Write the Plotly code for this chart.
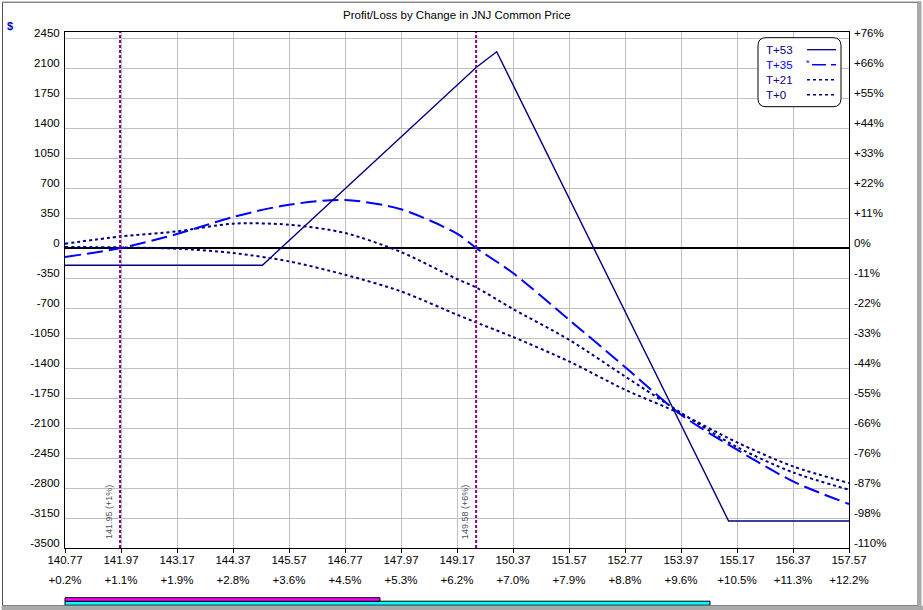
import plotly.graph_objects as go

# ---------------- data ----------------
SERIES = ["T+53", "T+35", "T+21", "T+0"]

PRICE_T53 = [140.77, 145.00, 149.58, 150.02, 154.99, 157.57]
PL_T53 = [-201, -201, 2105, 2290, -3185, -3185]

PRICE_CURVE = [140.77, 141.97, 143.17, 144.37, 145.57, 146.77, 147.97, 149.17,
               149.58, 150.37, 151.57, 152.77, 153.97, 155.17, 156.37, 157.57]
PL_T35 = [-105, 0, 163, 362, 505, 560, 452, 167,
          0, -292, -837, -1388, -1945, -2353, -2723, -2987]
PL_T21 = [50, 135, 194, 284, 272, 175, -47, -362,
          -460, -712, -1070, -1498, -1922, -2322, -2618, -2820]
PL_T0 = [12, 7, -8, -58, -156, -312, -506, -778,
         -868, -1038, -1323, -1653, -1935, -2268, -2548, -2742]

X_TICK_VALUES = [140.77, 141.97, 143.17, 144.37, 145.57, 146.77, 147.97, 149.17,
                 150.37, 151.57, 152.77, 153.97, 155.17, 156.37, 157.57]
X_TICK_TEXT = ["140.77", "141.97", "143.17", "144.37", "145.57", "146.77", "147.97",
               "149.17", "150.37", "151.57", "152.77", "153.97", "155.17", "156.37", "157.57"]
X_PCT_TEXT = ["+0.2%", "+1.1%", "+1.9%", "+2.8%", "+3.6%", "+4.5%", "+5.3%", "+6.2%",
              "+7.0%", "+7.9%", "+8.8%", "+9.6%", "+10.5%", "+11.3%", "+12.2%"]

Y_TICK_VALUES = [-3500, -3150, -2800, -2450, -2100, -1750, -1400, -1050, -700, -350,
                 0, 350, 700, 1050, 1400, 1750, 2100, 2450]
Y_TICK_TEXT = ["-3500", "-3150", "-2800", "-2450", "-2100", "-1750", "-1400", "-1050",
               "-700", "-350", "0", "350", "700", "1050", "1400", "1750", "2100", "2450"]
Y_PCT_TEXT = ["-110%", "-98%", "-87%", "-76%", "-66%", "-55%", "-44%", "-33%", "-22%",
              "-11%", "0%", "+11%", "+22%", "+33%", "+44%", "+55%", "+66%", "+76%"]

VLINE_PRICES = [141.95, 149.58]
VLINE_LABELS = ["141.95 (+1%)", "149.58 (+6%)"]

X_RANGE = [140.77, 157.57]
Y_RANGE = [-3500, 2520]

TITLE = "Profit/Loss by Change in JNJ Common Price"

# ---------------- styling ----------------
FONT = "Liberation Sans, Arial, sans-serif"
FS = 11.5
NAVY = "#000080"
BLUE = "#0000FF"
STYLES = {
    "T+53": dict(color=NAVY, dash="solid", width=1.4, text=NAVY),
    "T+35": dict(color=BLUE, dash="16px,6px", width=2, text=BLUE),
    "T+21": dict(color=NAVY, dash="3px,3px", width=2, text="#200080"),
    "T+0": dict(color=NAVY, dash="3px,3px", width=2, text=NAVY),
}

W, H = 923, 610
L, R, T, B = 65, 849, 32.3, 548.3


def px(x):
    return (x - L) / (R - L)


def py(y):
    return (B - y) / (B - T)


fig = go.Figure()

series_data = {
    "T+53": (PRICE_T53, PL_T53, "linear"),
    "T+35": (PRICE_CURVE, PL_T35, "spline"),
    "T+21": (PRICE_CURVE, PL_T21, "spline"),
    "T+0": (PRICE_CURVE, PL_T0, "spline"),
}
for name in ["T+0", "T+21", "T+35", "T+53"]:
    xs, ys, shape = series_data[name]
    st = STYLES[name]
    fig.add_trace(go.Scatter(
        x=xs, y=ys, name=name, mode="lines",
        line=dict(color=st["color"], dash=st["dash"], width=st["width"], shape=shape,
                  smoothing=0.8 if shape == "spline" else None),
        hoverinfo="x+y+name",
    ))

# carrier trace for the secondary (right / percent) axes
fig.add_trace(go.Scatter(
    x=[PRICE_T53[0]], y=[PL_T53[0]], xaxis="x2", yaxis="y2", mode="markers",
    marker=dict(opacity=0), hoverinfo="skip", showlegend=False,
))

shapes = []
annotations = []

# vertical marker lines
for v, lab in zip(VLINE_PRICES, VLINE_LABELS):
    shapes.append(dict(type="line", xref="x", yref="paper", x0=v, x1=v, y0=0, y1=1,
                       line=dict(color="#800080", width=2, dash="3px,2px"), layer="above"))
    annotations.append(dict(x=v, xref="x", y=0, yref="paper", text=lab, showarrow=False,
                            textangle=-90, xanchor="center", yanchor="bottom",
                            xshift=-11, yshift=7,
                            font=dict(family=FONT, size=9, color="#505060")))

# rounded legend box
x0, x1 = px(758), px(841)
y0, y1 = py(107), py(38)
rx, ry = 8 / (R - L), 8 / (B - T)
path = (f"M {x0 + rx},{y1} L {x1 - rx},{y1} Q {x1},{y1} {x1},{y1 - ry} "
        f"L {x1},{y0 + ry} Q {x1},{y0} {x1 - rx},{y0} L {x0 + rx},{y0} "
        f"Q {x0},{y0} {x0},{y0 + ry} L {x0},{y1 - ry} Q {x0},{y1} {x0 + rx},{y1} Z")
shapes.append(dict(type="path", xref="paper", yref="paper", path=path,
                   fillcolor="white", line=dict(color="black", width=1), layer="above"))

legend_rows = [50, 65, 80, 95]
for name, ry_px in zip(SERIES, legend_rows):
    st = STYLES[name]
    annotations.append(dict(x=px(764), y=py(ry_px), xref="paper", yref="paper", text=name,
                            showarrow=False, xanchor="left", yanchor="middle",
                            font=dict(family=FONT, size=FS, color=st["text"])))
    if name == "T+35":
        annotations.append(dict(x=px(808), y=py(ry_px - 2), xref="paper", yref="paper", text="*",
                                showarrow=False, xanchor="center", yanchor="middle",
                                font=dict(family=FONT, size=9, color=BLUE)))
        shapes.append(dict(type="line", xref="paper", yref="paper", x0=px(812), x1=px(836),
                           y0=py(ry_px), y1=py(ry_px), layer="above",
                           line=dict(color=BLUE, width=1.5, dash="14px,5px")))
    else:
        shapes.append(dict(type="line", xref="paper", yref="paper", x0=px(807), x1=px(836),
                           y0=py(ry_px), y1=py(ry_px), layer="above",
                           line=dict(color=NAVY, width=1.3 if name == "T+53" else 1.5,
                                     dash="solid" if name == "T+53" else "3px,3px")))

# title and $ label
annotations.append(dict(x=0.5, y=py(15), xref="paper", yref="paper", text=TITLE,
                        showarrow=False, xanchor="center", yanchor="middle",
                        font=dict(family=FONT, size=FS, color="black")))
annotations.append(dict(x=px(10), y=py(26), xref="paper", yref="paper", text="<b>$</b>",
                        showarrow=False, xanchor="center", yanchor="middle",
                        font=dict(family=FONT, size=11, color="#0000C0")))


# bottom bars
def rect(xa, xb, ya, yb, fill, line="black"):
    return dict(type="rect", xref="paper", yref="paper", x0=px(xa), x1=px(xb),
                y0=py(yb), y1=py(ya), fillcolor=fill, line=dict(color=line, width=1),
                layer="above")


shapes.append(rect(65, 710, 601.5, 605.5, "#00FFFF"))
shapes.append(rect(65, 380, 598, 601.5, "#FF00FF"))

# window frame
shapes.append(dict(type="rect", xref="paper", yref="paper", x0=px(2.5), x1=px(918),
                   y0=py(606), y1=py(2.5), line=dict(color="#505050", width=1),
                   fillcolor="rgba(0,0,0,0)", layer="above"))
shapes.append(rect(2, 923, 606.5, 610, "#a8a8a8", line="#a8a8a8"))
shapes.append(rect(918.5, 921, 2, 610, "#a8a8a8", line="#a8a8a8"))

axis_font = dict(family=FONT, size=FS, color="black")
fig.update_layout(
    width=W, height=H,
    margin=dict(l=L, r=W - R, t=T, b=H - B),
    paper_bgcolor="white", plot_bgcolor="white",
    showlegend=False,
    font=dict(family=FONT, size=FS, color="black"),
    xaxis=dict(range=X_RANGE, tickvals=X_TICK_VALUES, ticktext=X_TICK_TEXT,
               showgrid=True, gridcolor="#c0c0c0", gridwidth=1, zeroline=False,
               showline=True, linecolor="black", linewidth=1, mirror=True,
               ticks="outside", ticklen=4, tickcolor="black", tickfont=axis_font,
               ticklabelstandoff=-3),
    xaxis2=dict(range=X_RANGE, tickvals=X_TICK_VALUES, ticktext=X_PCT_TEXT,
                overlaying="x", side="bottom", anchor="y", showgrid=False,
                zeroline=False, showline=False, ticks="", ticklabelstandoff=23,
                tickfont=axis_font),
    yaxis=dict(range=Y_RANGE, tickvals=Y_TICK_VALUES, ticktext=Y_TICK_TEXT,
               showgrid=True, gridcolor="#c0c0c0", gridwidth=1,
               zeroline=True, zerolinecolor="black", zerolinewidth=2,
               showline=True, linecolor="black", linewidth=1, mirror=True,
               ticks="", ticklabelshift=-5, ticklabelstandoff=2, tickfont=axis_font),
    yaxis2=dict(range=Y_RANGE, tickvals=Y_TICK_VALUES, ticktext=Y_PCT_TEXT,
                overlaying="y", side="right", showgrid=False, zeroline=False,
                showline=False, ticks="", ticklabelshift=-5, ticklabelstandoff=4,
                tickfont=axis_font),
    shapes=shapes,
    annotations=annotations,
)

fig.write_html("out.html", config={"displayModeBar": False},
               post_script="document.body.style.margin='0px';")
